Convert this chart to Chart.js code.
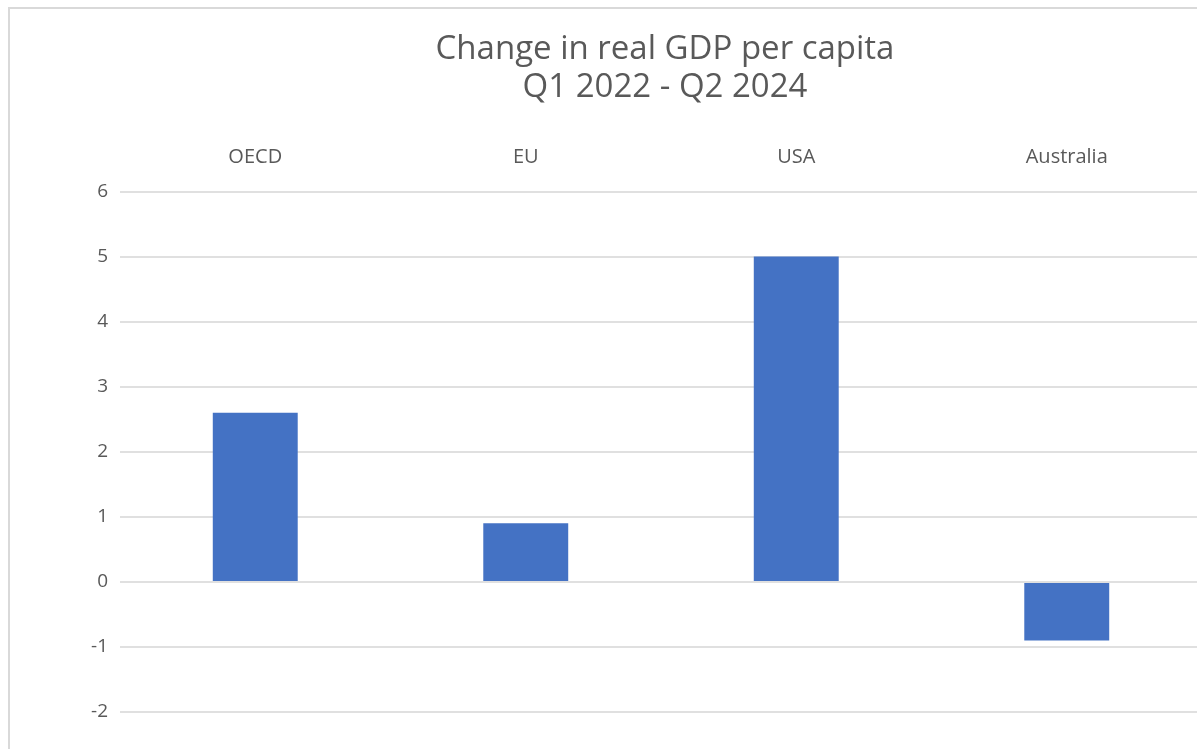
<!DOCTYPE html>
<html lang="en">
<head>
    <meta charset="UTF-8">
    <title>Change in real GDP per capita</title>
    <script src="https://cdn.jsdelivr.net/npm/chart.js@4.4.1/dist/chart.umd.min.js"></script>
    <style>
        html, body {
            margin: 0;
            padding: 0;
            background: #ffffff;
            overflow: hidden;
            width: 1197px;
            height: 749px;
        }
        .frame {
            position: absolute;
            left: 8px;
            top: 7px;
            width: 1310px;
            height: 780px;
            border-left: 2px solid #d9d9d9;
            border-top: 2px solid #d9d9d9;
        }
        #gdpChart {
            display: block;
        }
    </style>
</head>
<body>
    <div class="frame">
        <canvas id="gdpChart" width="1310" height="780"></canvas>
    </div>

    <script>
        // data
        var categories = ['OECD', 'EU', 'USA', 'Australia'];
        var gdpChange = [2.6, 0.9, 5.0, -0.9];
        var titleLines = ['Change in real GDP per capita', 'Q1 2022 - Q2 2024'];

        var textColor = '#595959';
        var fontName = "'Open Sans', 'Noto Sans', sans-serif";

        var ctx = document.getElementById('gdpChart').getContext('2d');
        var gdpChart = new Chart(ctx, {
            type: 'bar',
            data: {
                labels: categories,
                datasets: [{
                    label: 'Change in real GDP per capita',
                    data: gdpChange,
                    backgroundColor: '#4472c4',
                    borderWidth: 0,
                    categoryPercentage: 1.0,
                    barPercentage: 0.314
                }]
            },
            options: {
                responsive: false,
                animation: false,
                layout: { padding: { left: 0, top: 0, right: 0, bottom: 77 } },
                plugins: {
                    legend: { display: false },
                    tooltip: { enabled: false },
                    title: {
                        display: true,
                        text: titleLines,
                        color: textColor,
                        font: { family: fontName, size: 33, weight: 'normal', lineHeight: 1.16 },
                        padding: { top: 21, bottom: 6 }
                    }
                },
                scales: {
                    x: {
                        position: 'top',
                        grid: { display: false, drawTicks: false },
                        border: { display: false },
                        ticks: {
                            color: textColor,
                            font: { family: fontName, size: 20 },
                            padding: 22
                        },
                        afterFit: function (s) { s.height = 79; }
                    },
                    y: {
                        min: -2,
                        max: 6,
                        grid: { color: '#e0e0e0', lineWidth: 2, drawTicks: false },
                        border: { display: false },
                        ticks: {
                            stepSize: 1,
                            color: textColor,
                            font: { family: fontName, size: 19 },
                            padding: 12
                        },
                        afterFit: function (s) { s.width = 110; }
                    },
                    yPad: {
                        position: 'right',
                        display: true,
                        grid: { display: false },
                        border: { display: false },
                        ticks: { display: false },
                        afterFit: function (s) { s.width = 118; }
                    }
                }
            }
        });
    </script>
</body>
</html>
